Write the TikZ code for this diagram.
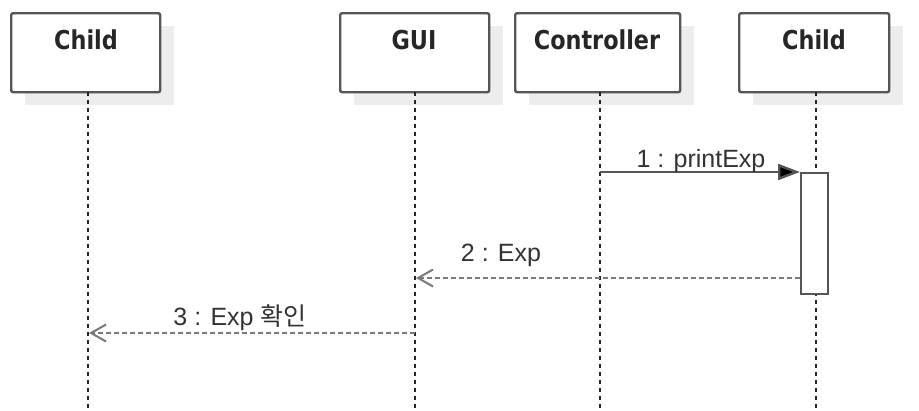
\documentclass[tikz,border=0pt]{standalone}
\usepackage{fontspec}
\setmainfont{Liberation Sans}
\newfontfamily\titlefont[FakeStretch=0.86]{DejaVu Sans}
\newfontfamily\krfont{Noto Sans CJK KR}
\usetikzlibrary{arrows.meta}
\definecolor{boxline}{HTML}{555555}
\definecolor{shadowc}{HTML}{EDEDED}
\definecolor{msgc}{HTML}{7A7A7A}
\tikzset{
  x=1pt, y=-1pt,
  objbox/.style={draw=boxline, line width=2.4pt, fill=white, rounded corners=2pt,
    minimum width=149pt, minimum height=79pt, inner sep=0pt, anchor=north west},
  objshadow/.style={fill=shadowc, draw=none, minimum width=149pt, minimum height=79pt, inner sep=0pt, anchor=north west},
  objtitle/.style={font=\titlefont\bfseries\fontsize{26}{30}\selectfont, text=black!85, anchor=base, inner sep=0pt},
  lifeline/.style={draw=black!85, line width=2pt, dash pattern=on 4pt off 4pt},
  actbox/.style={draw=boxline, line width=2.4pt, fill=white, minimum width=27pt, minimum height=121pt, inner sep=0pt, anchor=north west},
  callmsg/.style={draw=boxline, line width=2.4pt, -{Triangle[length=22pt,width=16pt,fill=black]}},
  retmsg/.style={draw=msgc, line width=2.6pt, dash pattern=on 5pt off 3pt, -{Straight Barb[length=15pt,width=17pt,line width=2pt]}},
  msglabel/.style={font=\fontsize{25}{29}\selectfont, text=black!80, anchor=base, inner sep=0pt},
}
\begin{document}
\begin{tikzpicture}
\useasboundingbox[fill=white] (0,0) rectangle (919,410);
% shadows
\node[objshadow] (s1) at (25,26) {};
\node[objshadow] (s2) at (354,26) {};
\node[objshadow, minimum width=165pt] (s3) at (529,26) {};
\node[objshadow, minimum width=150pt] (s4) at (753,26) {};
% boxes
\node[objbox] (child1) at (10,12) {};
\node[objbox] (gui) at (339,12) {};
\node[objbox, minimum width=165pt] (ctrl) at (514,12) {};
\node[objbox, minimum width=150pt] (child2) at (738,12) {};
% titles
\node[objtitle] (t1) at (86,49) {Child};
\node[objtitle] (t2) at (414,49) {GUI};
\node[objtitle] (t3) at (597,49) {Controller};
\node[objtitle] (t4) at (814,49) {Child};
% lifeline ends
\coordinate (l1a) at (88,92);  \coordinate (l1b) at (88,410);
\coordinate (l2a) at (415,92); \coordinate (l2b) at (415,410);
\coordinate (l3a) at (600,92); \coordinate (l3b) at (600,410);
\coordinate (l4a) at (816,92); \coordinate (l4b) at (816,410);
\draw[lifeline] (l1a) -- (l1b);
\draw[lifeline] (l2a) -- (l2b);
\draw[lifeline] (l3a) -- (l3b);
\draw[lifeline] (l4a) -- (l4b);
% activation
\node[actbox] (act) at (800,172) {};
% messages
\coordinate (m1s) at (600,172);
\draw[callmsg] (m1s) -- (act.north west);
\node[msglabel] (m1l) at (701,167) {1 : printExp};
\coordinate (m2s) at (800,278);
\coordinate (m2e) at (416,278);
\draw[retmsg] (m2s) -- (m2e);
\node[msglabel] (m2l) at (501,261) {2 : Exp};
\coordinate (m3s) at (415,333);
\coordinate (m3e) at (89,333);
\draw[retmsg] (m3s) -- (m3e);
\node[msglabel] (m3l) at (240,325) {3 : Exp {\krfont 확인}};
\end{tikzpicture}
\end{document}
